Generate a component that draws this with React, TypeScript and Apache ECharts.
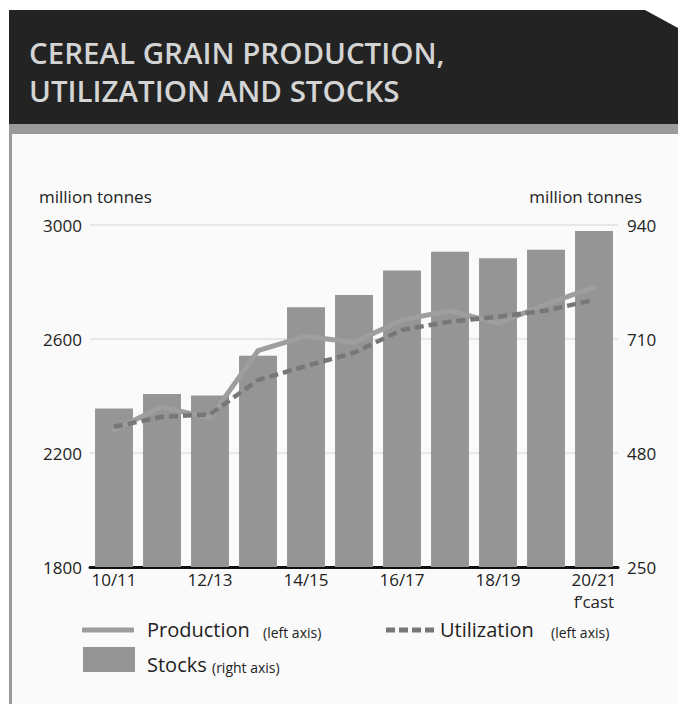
import React, { useEffect, useRef } from 'react';
import * as echarts from 'echarts';

const categories = ['10/11', '11/12', '12/13', '13/14', '14/15', '15/16', '16/17', '17/18', '18/19', '19/20', '20/21'];
const production = [2281, 2362, 2322, 2559, 2610, 2588, 2667, 2699, 2655, 2722, 2781];
const utilization = [2292, 2327, 2336, 2456, 2505, 2552, 2632, 2661, 2678, 2700, 2737];
const stocks = [570, 599, 596, 676, 774, 799, 848, 886, 873, 890, 928];
const leftTicks = [1800, 2200, 2600, 3000];
const rightTicks = [250, 480, 710, 940];

const titleLines = ['CEREAL GRAIN PRODUCTION,', 'UTILIZATION AND STOCKS'];
const unitLabel = 'million tonnes';
const forecastSuffix = 'f\u2019cast';

const FONT = "'Open Sans', 'Noto Sans', sans-serif";
const TXT = '#222222';

export default function App() {
  const ref = useRef<HTMLDivElement>(null);
  useEffect(() => {
    if (!ref.current) return;
    const chart = echarts.init(ref.current, null, { renderer: 'svg' });
    const lastCat = categories[categories.length - 1];
    chart.setOption({
      animation: false,
      backgroundColor: '#ffffff',
      textStyle: { fontFamily: FONT },
      grid: { left: 90, right: 60, top: 225, bottom: 137, containLabel: false },
      xAxis: {
        type: 'category',
        data: categories,
        boundaryGap: true,
        axisLine: { lineStyle: { color: '#111111', width: 3 } },
        axisTick: { show: false },
        axisLabel: {
          interval: 1,
          color: TXT,
          fontSize: 17,
          lineHeight: 22,
          margin: 1,
          fontFamily: FONT,
          formatter: (v: string) => (v === lastCat ? v + '\n' + forecastSuffix : v),
        },
        splitLine: { show: false },
      },
      yAxis: [
        {
          type: 'value',
          position: 'left',
          min: leftTicks[0],
          max: leftTicks[leftTicks.length - 1],
          axisLine: { show: false },
          axisTick: { show: false, customValues: leftTicks },
          axisLabel: {
            customValues: leftTicks,
            color: TXT,
            fontSize: 17,
            margin: 8,
            fontFamily: FONT,
            formatter: (v: number) => String(v),
          },
          splitLine: { show: true, lineStyle: { color: '#e0e0e0', width: 1.5 } },
        },
        {
          type: 'value',
          position: 'right',
          min: rightTicks[0],
          max: rightTicks[rightTicks.length - 1],
          axisLine: { show: false },
          axisTick: { show: false, customValues: rightTicks },
          axisLabel: {
            customValues: rightTicks,
            color: TXT,
            fontSize: 17,
            margin: 9,
            fontFamily: FONT,
            formatter: (v: number) => String(v),
          },
          splitLine: { show: false },
        },
      ],
      series: [
        {
          name: 'Stocks',
          type: 'bar',
          yAxisIndex: 1,
          data: stocks,
          barCategoryGap: '21%',
          itemStyle: { color: '#959595' },
          z: 1,
        },
        {
          name: 'Production',
          type: 'line',
          yAxisIndex: 0,
          data: production,
          symbol: 'none',
          lineStyle: { color: '#9e9e9e', width: 5, join: 'round', cap: 'round' },
          z: 3,
        },
        {
          name: 'Utilization',
          type: 'line',
          yAxisIndex: 0,
          data: utilization,
          symbol: 'none',
          lineStyle: { color: '#777777', width: 4.5, type: [9, 5] },
          z: 4,
        },
      ],
      graphic: [
        { type: 'rect', z: -10, shape: { x: 12, y: 134, width: 666, height: 570 }, style: { fill: '#fafafa' } },
        { type: 'rect', z: -9, shape: { x: 9, y: 124, width: 3, height: 580 }, style: { fill: '#9a9a9a' } },
        { type: 'rect', z: -9, shape: { x: 9, y: 124, width: 669, height: 10 }, style: { fill: '#9a9a9a' } },
        {
          type: 'polygon',
          z: -9,
          shape: { points: [[9, 10], [645, 10], [678, 28], [678, 124], [9, 124]] },
          style: { fill: '#232323' },
        },
        {
          type: 'text', z: 10, x: 29, y: 52,
          style: { text: titleLines[0], fill: '#d4d4d4', fontSize: 29.5, fontWeight: 600, fontFamily: FONT, verticalAlign: 'middle' },
        },
        {
          type: 'text', z: 10, x: 29, y: 90,
          style: { text: titleLines[1], fill: '#d4d4d4', fontSize: 29.5, fontWeight: 600, fontFamily: FONT, verticalAlign: 'middle' },
        },
        {
          type: 'text', z: 10, x: 39, y: 196,
          style: { text: unitLabel, fill: TXT, fontSize: 17, fontFamily: FONT, verticalAlign: 'middle' },
        },
        {
          type: 'text', z: 10, x: 642, y: 196,
          style: { text: unitLabel, fill: TXT, fontSize: 17, fontFamily: FONT, align: 'right', verticalAlign: 'middle' },
        },
        // legend
        { type: 'line', z: 10, shape: { x1: 82, y1: 630, x2: 134, y2: 630 }, style: { stroke: '#9e9e9e', lineWidth: 5 } },
        {
          type: 'text', z: 10, x: 147, y: 629,
          style: { text: 'Production', fill: TXT, fontSize: 20, fontFamily: FONT, verticalAlign: 'middle' },
        },
        {
          type: 'text', z: 10, x: 263, y: 632,
          style: { text: '(left axis)', fill: TXT, fontSize: 14, fontFamily: FONT, verticalAlign: 'middle' },
        },
        {
          type: 'line', z: 10, shape: { x1: 386, y1: 630, x2: 437, y2: 630 },
          style: { stroke: '#777777', lineWidth: 5, lineDash: [9, 4] },
        },
        {
          type: 'text', z: 10, x: 440, y: 629,
          style: { text: 'Utilization', fill: TXT, fontSize: 20, fontFamily: FONT, verticalAlign: 'middle' },
        },
        {
          type: 'text', z: 10, x: 551, y: 632,
          style: { text: '(left axis)', fill: TXT, fontSize: 14, fontFamily: FONT, verticalAlign: 'middle' },
        },
        { type: 'rect', z: 10, shape: { x: 83, y: 647, width: 52, height: 25 }, style: { fill: '#959595' } },
        {
          type: 'text', z: 10, x: 147, y: 664,
          style: { text: 'Stocks', fill: TXT, fontSize: 20, fontFamily: FONT, verticalAlign: 'middle' },
        },
        {
          type: 'text', z: 10, x: 212, y: 667,
          style: { text: '(right axis)', fill: TXT, fontSize: 14, fontFamily: FONT, verticalAlign: 'middle' },
        },
      ],
    });
    return () => chart.dispose();
  }, []);
  return <div ref={ref} style={{ position: 'fixed', left: 0, top: 0, width: 678, height: 704 }} />;
}
